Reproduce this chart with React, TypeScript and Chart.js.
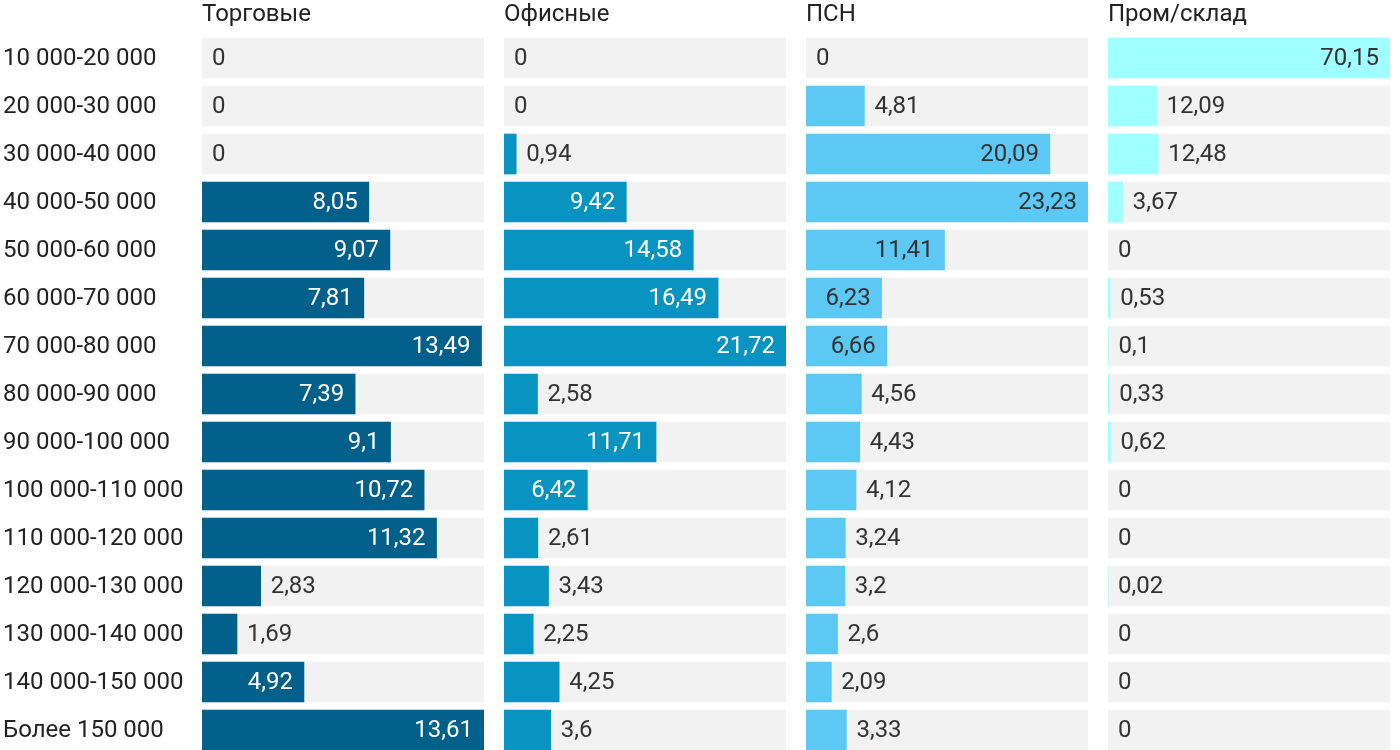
import React, { useEffect, useRef } from "react";
import { Chart, registerables } from "chart.js";
Chart.register(...registerables);

const categories = [
  "10 000-20 000",
  "20 000-30 000",
  "30 000-40 000",
  "40 000-50 000",
  "50 000-60 000",
  "60 000-70 000",
  "70 000-80 000",
  "80 000-90 000",
  "90 000-100 000",
  "100 000-110 000",
  "110 000-120 000",
  "120 000-130 000",
  "130 000-140 000",
  "140 000-150 000",
  "Более 150 000",
];

const panelTitles = ["Торговые", "Офисные", "ПСН", "Пром/склад"];

const retail = [0, 0, 0, 8.05, 9.07, 7.81, 13.49, 7.39, 9.1, 10.72, 11.32, 2.83, 1.69, 4.92, 13.61];
const office = [0, 0, 0.94, 9.42, 14.58, 16.49, 21.72, 2.58, 11.71, 6.42, 2.61, 3.43, 2.25, 4.25, 3.6];
const psn = [0, 4.81, 20.09, 23.23, 11.41, 6.23, 6.66, 4.56, 4.43, 4.12, 3.24, 3.2, 2.6, 2.09, 3.33];
const industrial = [70.15, 12.09, 12.48, 3.67, 0, 0.53, 0.1, 0.33, 0.62, 0, 0, 0.02, 0, 0, 0];

const seriesList = [retail, office, psn, industrial];
const barColors = ["#03608a", "#0893c0", "#5ec8f5", "#a0ffff"];
const insideLabelColors = ["#ffffff", "#ffffff", "#333333", "#333333"];
const trackColor = "#f2f2f2";
const textColor = "#222222";
const FONT_FAMILY = "Roboto, 'Noto Sans', sans-serif";
const FONT_SIZE = 24;

const PANEL_LEFT = [0, 504, 806, 1108];
const PANEL_WIDTH = [484, 282, 282, 282];
const PANEL_PAD_LEFT = [202, 0, 0, 0];

function fmt(v: number) {
  return String(v).replace(".", ",");
}

function Panel({ index }: { index: number }) {
  const ref = useRef<HTMLCanvasElement | null>(null);
  useEffect(() => {
    const canvas = ref.current;
    if (!canvas) return;
    const data = seriesList[index];
    const maxV = Math.max(...data);
    const first = index === 0;

    const labelPlugin = {
      id: "panelLabels",
      afterDatasetsDraw(chart: any) {
        const ctx = chart.ctx;
        const meta = chart.getDatasetMeta(1);
        const yScale = chart.scales.y;
        ctx.save();
        ctx.font = `${FONT_SIZE}px ${FONT_FAMILY}`;
        ctx.textBaseline = "middle";
        meta.data.forEach((el: any, i: number) => {
          const v = data[i];
          const text = fmt(v);
          const tw = ctx.measureText(text).width;
          const w = el.x - el.base;
          if (w >= tw + 24) {
            ctx.textAlign = "right";
            ctx.fillStyle = insideLabelColors[index];
            ctx.fillText(text, el.x - 11, el.y + 1);
          } else {
            ctx.textAlign = "left";
            ctx.fillStyle = "#333333";
            ctx.fillText(text, Math.max(el.x, el.base) + 10, el.y + 1);
          }
        });
        ctx.textAlign = "left";
        ctx.fillStyle = textColor;
        if (first) {
          categories.forEach((c, i) => {
            ctx.fillText(c, 3, yScale.getPixelForValue(i) + 1);
          });
        }
        ctx.fillText(panelTitles[index], chart.chartArea.left, 15);
        ctx.restore();
      },
    };

    const chart = new Chart(canvas, {
      type: "bar",
      data: {
        labels: categories,
        datasets: [
          {
            data: categories.map(() => maxV),
            backgroundColor: trackColor,
            grouped: false,
            order: 2,
            barThickness: 40,
          } as any,
          {
            data: data,
            backgroundColor: (c: any) => (c.raw ? barColors[index] : "rgba(0,0,0,0)"),
            grouped: false,
            order: 1,
            barThickness: 40,
          } as any,
        ],
      },
      options: {
        indexAxis: "y",
        responsive: false,
        animation: false,
        devicePixelRatio: 1,
        layout: { padding: { top: 34, left: PANEL_PAD_LEFT[index], right: 0, bottom: 0 } },
        plugins: { legend: { display: false }, tooltip: { enabled: false }, title: { display: false } },
        scales: {
          x: { display: false, min: 0, max: maxV },
          y: { display: false },
        },
      },
      plugins: [labelPlugin],
    } as any);
    return () => chart.destroy();
  }, [index]);

  return (
    <canvas
      ref={ref}
      width={PANEL_WIDTH[index]}
      height={754}
      style={{ position: "absolute", left: PANEL_LEFT[index], top: 0, width: PANEL_WIDTH[index], height: 754 }}
    />
  );
}

export default function App() {
  useEffect(() => {
    document.body.style.margin = "0";
    document.body.style.overflow = "hidden";
  }, []);
  return (
    <div style={{ position: "absolute", left: 0, top: 0, width: 1400, height: 750, overflow: "hidden", background: "#ffffff" }}>
      {[0, 1, 2, 3].map((i) => (
        <Panel key={i} index={i} />
      ))}
    </div>
  );
}
